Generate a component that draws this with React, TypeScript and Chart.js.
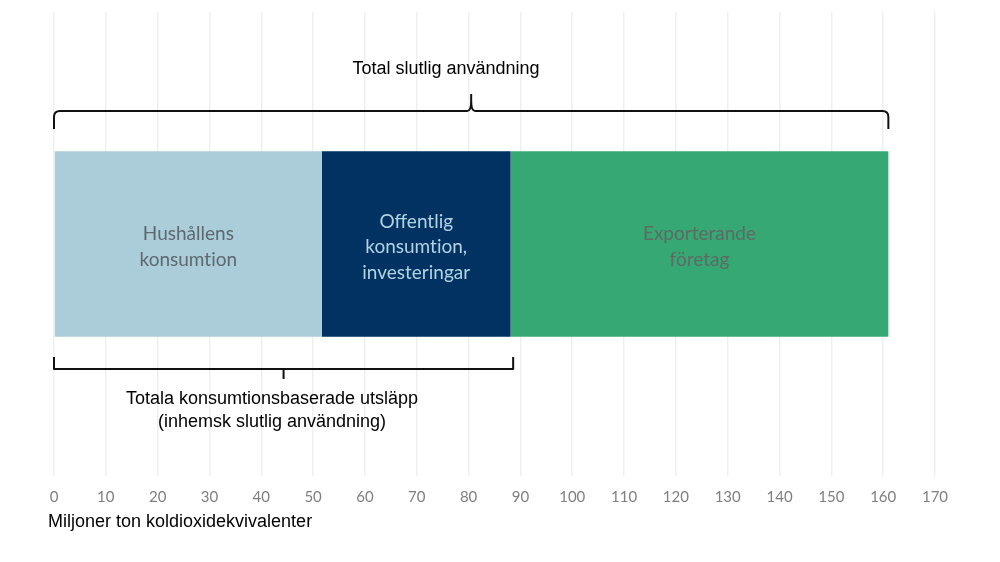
import React, { useEffect, useRef } from "react";
import { Chart, registerables } from "chart.js";

Chart.register(...registerables);

const categories = ["Utsläpp"];
const segmentNames = ["Hushållens konsumtion", "Offentlig konsumtion, investeringar", "Exporterande företag"];
const segmentLabelLines = [["Hushållens", "konsumtion"], ["Offentlig", "konsumtion,", "investeringar"], ["Exporterande", "företag"]];
const segmentValues = [51.7, 36.4, 72.9];
const segmentColors = ["#abcdd9", "#013262", "#36a874"];
const segmentTextColors = ["#5d6870", "#b3d3e3", "#5d6b62"];
const xTicks = [0, 10, 20, 30, 40, 50, 60, 70, 80, 90, 100, 110, 120, 130, 140, 150, 160, 170];
const topBrace = [0, 161];
const topBraceTitle = ["Total slutlig användning"];
const bottomBrace = [0, 88.6];
const bottomBraceTitle = ["Totala konsumtionsbaserade utsläpp", "(inhemsk slutlig användning)"];
const axisTitle = "Miljoner ton koldioxidekvivalenter";

// avoid the "ti" ligature of Lato without changing the text
const noLig = (s: string) => s.replace(/ti/g, "t\u200Ci");

const annotPlugin = {
  id: "annot",
  afterDatasetsDraw(chart: any) {
    const ctx = chart.ctx;
    const xs = chart.scales.x;
    ctx.save();
    chart.data.datasets.forEach((ds: any, i: number) => {
      const meta = chart.getDatasetMeta(i);
      const el = meta.data[0];
      if (!el) return;
      const cx = (el.x + el.base) / 2;
      const cy = el.y + 3;
      const lines = segmentLabelLines[i];
      ctx.fillStyle = segmentTextColors[i];
      ctx.font = "19px Lato";
      ctx.textAlign = "center";
      ctx.textBaseline = "middle";
      const lh = 25.5;
      lines.forEach((ln: string, k: number) => {
        ctx.fillText(noLig(ln), cx, cy + (k - (lines.length - 1) / 2) * lh);
      });
    });

    ctx.strokeStyle = "#111111";
    ctx.lineWidth = 2;
    ctx.lineJoin = "round";
    const t0 = xs.getPixelForValue(topBrace[0]);
    const t1 = xs.getPixelForValue(topBrace[1]);
    const tm = xs.getPixelForValue((topBrace[0] + topBrace[1]) / 2);
    const ty = 111;
    ctx.beginPath();
    ctx.moveTo(t0, 129);
    ctx.lineTo(t0, 117);
    ctx.quadraticCurveTo(t0, ty, t0 + 6, ty);
    ctx.lineTo(tm - 4, ty);
    ctx.quadraticCurveTo(tm, ty, tm, 101);
    ctx.lineTo(tm, 94);
    ctx.moveTo(tm, 101);
    ctx.quadraticCurveTo(tm, ty, tm + 4, ty);
    ctx.lineTo(t1 - 6, ty);
    ctx.quadraticCurveTo(t1, ty, t1, 117);
    ctx.lineTo(t1, 129);
    ctx.stroke();

    const b0 = xs.getPixelForValue(bottomBrace[0]);
    const b1 = xs.getPixelForValue(bottomBrace[1]);
    const bm = xs.getPixelForValue((bottomBrace[0] + bottomBrace[1]) / 2);
    const by = 369;
    ctx.beginPath();
    ctx.moveTo(b0, 357);
    ctx.lineTo(b0, by);
    ctx.lineTo(b1, by);
    ctx.lineTo(b1, 357);
    ctx.moveTo(bm, by);
    ctx.lineTo(bm, 379);
    ctx.stroke();

    ctx.fillStyle = "#000000";
    ctx.font = "18px 'Liberation Sans'";
    ctx.textAlign = "center";
    ctx.textBaseline = "middle";
    ctx.fillText(topBraceTitle[0], 446, 69);
    ctx.fillText(bottomBraceTitle[0], 272, 399);
    ctx.fillText(bottomBraceTitle[1], 272, 422);

    ctx.textAlign = "left";
    ctx.fillText(axisTitle, 48, 522);
    ctx.restore();
  },
};

export default function App() {
  const ref = useRef<HTMLCanvasElement | null>(null);
  useEffect(() => {
    if (!ref.current) return;
    const chart = new Chart(ref.current, {
      type: "bar",
      data: {
        labels: categories,
        datasets: segmentNames.map((name, i) => ({
          label: name,
          data: [segmentValues[i]],
          backgroundColor: segmentColors[i],
          borderWidth: 0,
          barPercentage: 0.4,
          categoryPercentage: 1,
        })),
      },
      options: {
        indexAxis: "y",
        animation: false,
        responsive: false,
        maintainAspectRatio: false,
        layout: { padding: { left: 54, right: 65, top: 12, bottom: 44 } },
        plugins: { legend: { display: false }, tooltip: { enabled: false } },
        scales: {
          x: {
            stacked: true,
            min: 0,
            max: 170,
            afterBuildTicks: (scale: any) => {
              scale.ticks = xTicks.map((v) => ({ value: v }));
            },
            grid: { color: "#efefef", lineWidth: 1.5, drawTicks: false },
            border: { display: false },
            ticks: {
              color: "#7f7f7f",
              font: { family: "Lato", size: 15 },
              padding: 12,
              maxRotation: 0,
              autoSkip: false,
            },
          },
          y: { stacked: true, display: false },
        },
      },
      plugins: [annotPlugin],
    });
    return () => chart.destroy();
  }, []);
  return (
    <div style={{ position: "absolute", left: 0, top: 0, width: 1000, height: 562, background: "#fff" }}>
      <canvas ref={ref} width={1000} height={562} style={{ width: 1000, height: 562 }} />
    </div>
  );
}
